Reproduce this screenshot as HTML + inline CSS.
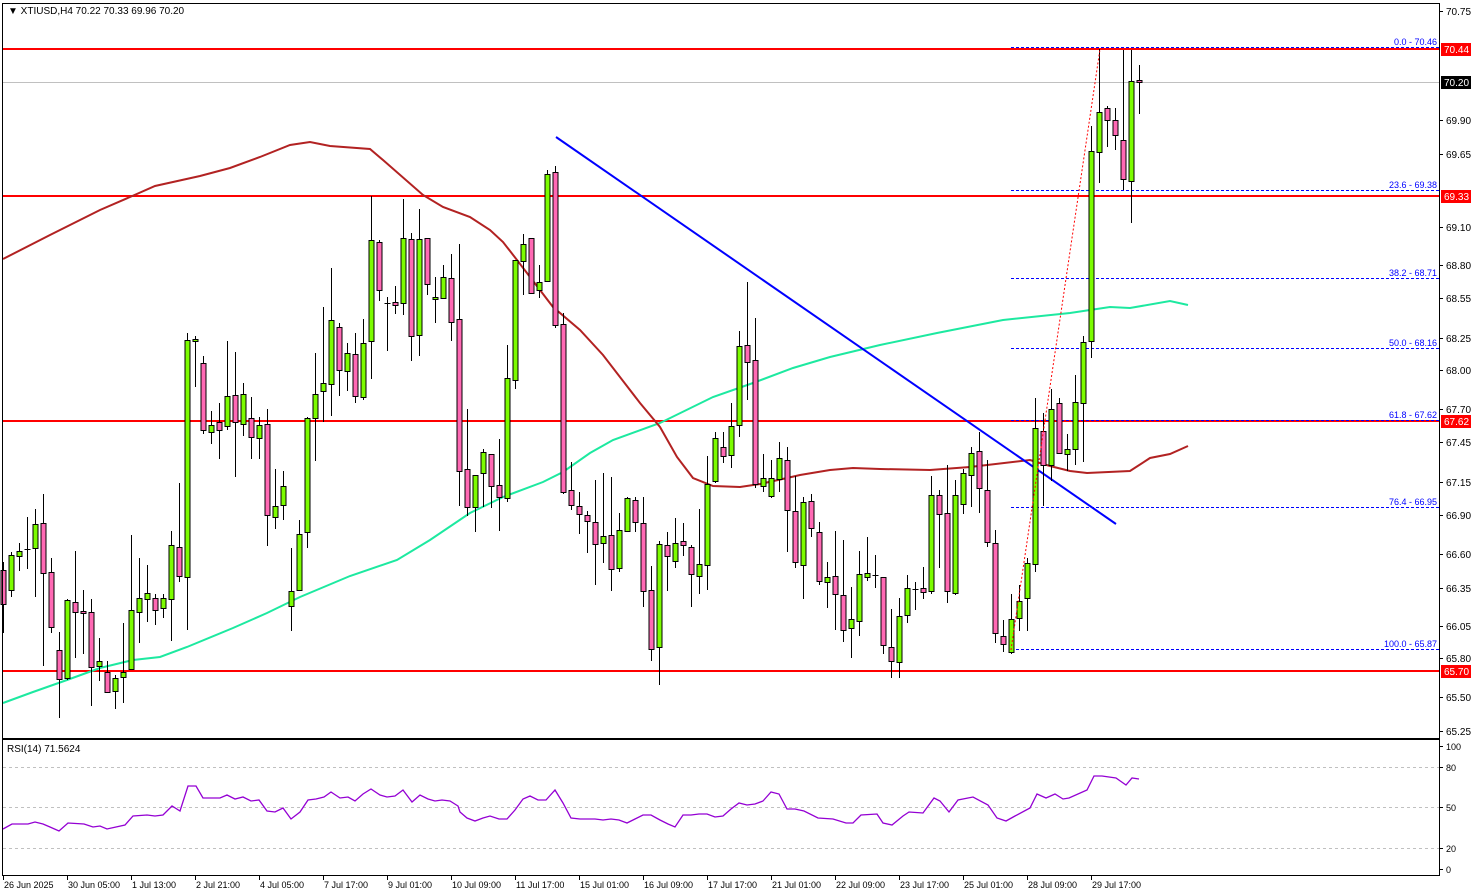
<!DOCTYPE html>
<html><head><meta charset="utf-8"><style>
html,body{margin:0;padding:0;background:#fff;}
svg{display:block;font-family:"Liberation Sans",sans-serif;}
</style></head><body>
<svg id="s" width="1479" height="896" viewBox="0 0 1479 896" xmlns="http://www.w3.org/2000/svg">
<rect x="0" y="0" width="1479" height="896" fill="#fff"/>
<g id="lines"></g>
<g id="candles"></g>
<g id="over"></g>
<!-- frames -->
<rect x="2.5" y="3.5" width="1437" height="735" fill="none" stroke="#000" stroke-width="1"/>
<rect x="2.5" y="739.5" width="1437" height="136" fill="none" stroke="#000" stroke-width="1"/>
<text x="8" y="14" font-size="10" fill="#000">▼ XTIUSD,H4  70.22 70.33 69.96 70.20</text>
<text x="7" y="752" font-size="10" fill="#000">RSI(14) 71.5624</text>
<g id="axis" font-size="10" fill="#000"></g>
</svg>
<script>
var NS="http://www.w3.org/2000/svg";
function el(p,t,a,txt){var e=document.createElementNS(NS,t);for(var k in a)e.setAttribute(k,a[k]);if(txt!==undefined)e.textContent=txt;document.getElementById(p).appendChild(e);return e;}
// horizontal red lines
[49,196,421,671].forEach(function(y){el('lines','line',{x1:3,x2:1440,y1:y,y2:y,stroke:'#ff0000','stroke-width':2});});
el('lines','line',{x1:3,x2:1440,y1:82.5,y2:82.5,stroke:'#c0c0c0','stroke-width':1});
// RSI levels
[767,807,848].forEach(function(y){el('lines','line',{x1:3,x2:1440,y1:y+0.5,y2:y+0.5,stroke:'#c0c0c0','stroke-width':1,'stroke-dasharray':'3,3'});});
// fib lines
var fib=[[47,'0.0 - 70.46'],[190,'23.6 - 69.38'],[278,'38.2 - 68.71'],[348,'50.0 - 68.16'],[420,'61.8 - 67.62'],[507,'76.4 - 66.95'],[649,'100.0 - 65.87']];
fib.forEach(function(f){el('lines','line',{x1:1011,x2:1440,y1:f[0]+0.5,y2:f[0]+0.5,stroke:'#0000ff','stroke-width':1,'stroke-dasharray':'3,2'});
el('over','text',{x:1437,y:f[0]-2,'font-size':'9','fill':'#0000ff','text-anchor':'end'},f[1]);});
// MAs
var red=[[3,259],[50,235],[100,210],[130,197],[155,186],[200,176],[230,168],[260,157],[290,145],[310,142],[330,146],[370,149],[383,160],[423,195],[443,207],[470,217],[490,230],[503,242],[517,260],[553,307],[580,330],[603,355],[640,403],[660,427],[677,457],[693,478],[713,486],[740,487],[760,484],[787,478],[800,475],[830,470],[853,468],[880,469],[930,470],[970,467],[1030,460],[1050,466],[1070,471],[1087,473],[1130,471],[1150,458],[1170,454],[1188,446]];
var grn=[[3,703],[33,692],[67,680],[100,668],[133,660],[160,657],[187,647],[233,628],[267,613],[300,597],[350,576],[397,560],[430,540],[470,513],[503,497],[543,482],[563,472],[590,453],[613,440],[660,423],[713,397],[753,383],[793,368],[830,357],[880,345],[937,333],[1003,320],[1070,313],[1110,307],[1130,308],[1170,301],[1188,305]];
function pts(a){return a.map(function(p){return p.join(',');}).join(' ');}
el('lines','polyline',{points:pts(grn),fill:'none',stroke:'#1de9a0','stroke-width':2});
el('lines','polyline',{points:pts(red),fill:'none',stroke:'#b22222','stroke-width':2});
el('lines','line',{x1:556,y1:137,x2:1116,y2:524,stroke:'#0000ff','stroke-width':2});
// RSI
var rsi=[[3,829],[12,824],[28,824],[35,822],[43,824],[50,827],[59,831],[68,823],[84,824],[93,827],[100,826],[107,829],[116,827],[125,825],[133,816],[147,815],[155,816],[163,815],[172,806],[180,811],[188,786],[196,786],[203,798],[220,798],[227,795],[235,799],[243,797],[251,801],[259,800],[267,811],[275,812],[283,808],[291,819],[300,812],[308,800],[316,799],[324,797],[331,792],[340,798],[348,797],[355,801],[363,794],[371,789],[380,795],[387,797],[395,796],[403,790],[412,802],[420,795],[428,799],[435,801],[442,800],[450,801],[458,806],[460,812],[467,818],[475,821],[483,818],[490,816],[499,819],[507,819],[515,810],[523,799],[530,796],[538,800],[546,800],[555,790],[563,803],[571,818],[580,819],[595,819],[603,820],[611,819],[619,820],[627,823],[635,819],[643,815],[651,815],[660,820],[668,824],[675,827],[683,815],[691,815],[699,814],[707,814],[715,817],[723,816],[731,809],[739,803],[747,805],[755,804],[763,801],[771,792],[779,794],[787,809],[795,809],[804,811],[818,818],[833,819],[846,823],[853,823],[861,815],[877,814],[883,823],[892,825],[903,816],[909,812],[923,813],[934,798],[940,801],[949,812],[958,800],[973,797],[988,805],[997,818],[1006,821],[1015,816],[1030,808],[1037,794],[1046,798],[1055,794],[1063,799],[1069,798],[1087,790],[1094,776],[1102,776],[1116,778],[1126,785],[1132,778],[1139,779]];
el('lines','polyline',{points:pts(rsi),fill:'none',stroke:'#9400d3','stroke-width':1.3});
// candles [o,c,h,l]
var C=[[570,604,562,633],[590,555,552,597],[556,551,543,571],[549,549,517,569],[548,524,509,597],[523,573,494,666],[572,627,558,633],[650,679,632,718],[678,600,599,680],[602,612,551,658],[611,613,590,654],[612,667,599,706],[666,661,638,681],[672,692,661,693],[691,678,675,709],[677,672,623,703],[669,610,535,669],[612,598,558,643],[599,593,565,622],[598,610,594,625],[608,598,594,618],[599,545,531,641],[547,576,483,582],[577,340,333,630],[341,339,336,387],[363,430,356,434],[432,425,411,444],[422,430,403,459],[426,396,341,430],[395,422,352,477],[424,394,383,436],[418,437,397,459],[438,425,417,459],[424,515,409,546],[517,506,469,529],[505,486,471,520],[606,591,548,631],[590,534,520,590],[532,418,417,548],[418,394,353,461],[391,383,307,422],[384,320,268,416],[327,370,323,396],[371,353,343,391],[354,396,333,403],[397,343,319,400],[341,240,196,379],[242,290,240,301],[303,303,297,351],[302,305,286,314],[303,238,199,315],[239,336,233,361],[335,239,209,356],[238,284,238,295],[299,297,277,323],[298,277,265,299],[278,322,254,341],[319,471,244,506],[469,507,409,516],[507,475,475,532],[473,452,449,507],[454,486,454,508],[485,497,439,531],[498,378,345,502],[380,260,260,389],[261,244,234,295],[238,293,238,294],[290,282,265,298],[281,174,170,281],[172,325,166,328],[324,492,313,494],[490,505,462,510],[506,514,492,534],[515,521,511,553],[522,544,480,585],[543,536,473,563],[535,569,477,591],[568,530,513,572],[531,498,497,531],[500,522,497,532],[523,591,497,607],[590,649,566,661],[647,544,541,685],[545,556,532,591],[561,543,518,568],[541,545,523,556],[547,574,545,607],[576,564,509,594],[565,484,456,590],[481,438,432,483],[447,456,432,463],[455,426,403,468],[425,346,331,437],[345,362,282,400],[360,484,318,488],[486,478,454,492],[496,478,460,498],[479,458,442,492],[460,510,447,552],[511,562,476,568],[565,502,497,599],[501,528,494,537],[532,581,522,585],[582,577,562,608],[576,594,531,630],[595,630,540,642],[628,619,587,658],[621,574,551,636],[577,573,537,581],[575,575,555,588],[577,645,577,654],[647,661,609,678],[662,616,598,678],[615,588,575,623],[589,589,582,610],[588,592,567,599],[591,495,476,594],[495,514,490,568],[513,591,465,603],[593,495,480,595],[504,473,469,514],[475,453,447,507],[451,488,432,513],[490,542,460,547],[543,633,530,643],[636,644,620,652],[652,619,594,654],[618,601,585,631],[598,563,558,631],[564,428,398,572],[431,465,413,506],[465,409,389,481],[403,453,398,453],[454,449,434,471],[449,402,375,465],[403,342,336,462],[341,151,126,358],[152,112,49,183],[108,120,106,147],[120,135,108,150],[140,179,50,190],[181,81,50,223],[80,82,65,114]];
C.forEach(function(c,i){var x=Math.round(3.3+8*i)+0.5;var o=c[0],cl=c[1],h=c[2],l=c[3];
el('candles','line',{x1:x,x2:x,y1:h,y2:l,stroke:'#000','stroke-width':1});
var top=Math.min(o,cl),bh=Math.abs(o-cl);
if(bh<1){el('candles','line',{x1:x-3,x2:x+3,y1:top+0.5,y2:top+0.5,stroke:'#000','stroke-width':1});}
else el('candles','rect',{x:x-2.5,y:top+0.5,width:5,height:bh,fill:(cl<o?'#7cfc00':'#ff69b4'),stroke:'#000','stroke-width':1});});
// fib diagonal
el('over','line',{x1:1011,y1:650,x2:1100,y2:49,stroke:'#ff0000','stroke-width':1,'stroke-dasharray':'2,2'});
// price axis
var pa=[[11,'70.75'],[120,'69.90'],[154,'69.65'],[227,'69.10'],[265,'68.80'],[298,'68.55'],[338,'68.25'],[370,'68.00'],[409,'67.70'],[442,'67.45'],[482,'67.15'],[515,'66.90'],[554,'66.60'],[588,'66.35'],[626,'66.05'],[658,'65.80'],[697,'65.50'],[731,'65.25']];
pa.forEach(function(p){el('axis','line',{x1:1440,x2:1443,y1:p[0]+0.5,y2:p[0]+0.5,stroke:'#000'});el('axis','text',{x:1446,y:p[0]+4},p[1]);});
[[49,'70.44','#ff0000'],[82,'70.20','#000'],[196,'69.33','#ff0000'],[421,'67.62','#ff0000'],[671,'65.70','#ff0000']].forEach(function(p){
el('axis','rect',{x:1441,y:p[0]-6,width:30,height:13,fill:p[2]});el('axis','text',{x:1444,y:p[0]+4,fill:'#fff'},p[1]);});
[[746,'100'],[767,'80'],[807,'50'],[848,'20'],[869,'0']].forEach(function(p){el('axis','line',{x1:1440,x2:1443,y1:p[0]+0.5,y2:p[0]+0.5,stroke:'#000'});el('axis','text',{x:1446,y:p[0]+4,'font-size':'9'},p[1]);});
var tl=['26 Jun 2025','30 Jun 05:00','1 Jul 13:00','2 Jul 21:00','4 Jul 05:00','7 Jul 17:00','9 Jul 01:00','10 Jul 09:00','11 Jul 17:00','15 Jul 01:00','16 Jul 09:00','17 Jul 17:00','21 Jul 01:00','22 Jul 09:00','23 Jul 17:00','25 Jul 01:00','28 Jul 09:00','29 Jul 17:00'];
tl.forEach(function(t,i){var x=3+64*i;el('axis','line',{x1:x+0.5,x2:x+0.5,y1:876,y2:880,stroke:'#000'});el('axis','text',{x:x+1,y:888,'font-size':'9'},t);});
</script>
</body></html>
